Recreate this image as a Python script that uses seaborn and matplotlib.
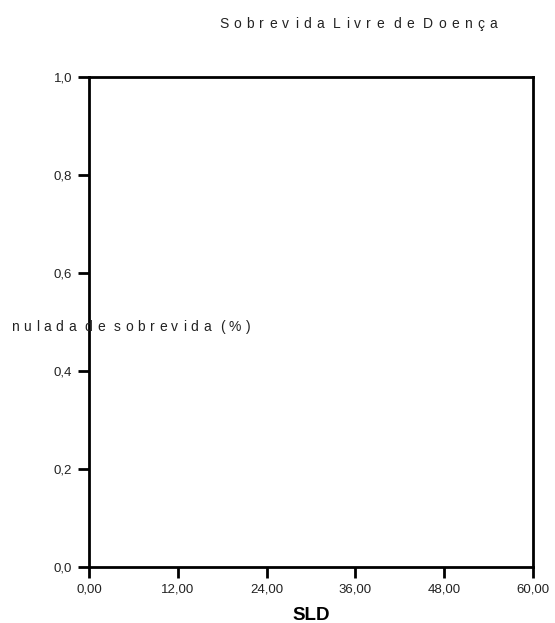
import matplotlib
matplotlib.use("Agg")
import matplotlib.pyplot as plt
import seaborn as sns
from matplotlib.font_manager import FontProperties, findfont, get_font

sns.set_theme(style="ticks")
plt.rcParams["font.family"] = ["Liberation Sans", "DejaVu Sans"]

# chart content (empty survival plot)
time_points = []
survival = []
x_ticks = [0, 12, 24, 36, 48, 60]
x_tick_labels = ["0,00", "12,00", "24,00", "36,00", "48,00", "60,00"]
y_ticks = [0.0, 0.2, 0.4, 0.6, 0.8, 1.0]
y_tick_labels = ["0,0", "0,2", "0,4", "0,6", "0,8", "1,0"]
title = "Sobrevida Livre de Doença"
y_label = "nulada de sobrevida (%)"
x_label = "SLD"

DPI = 100
W, H = 555, 623


def letter_spaced(fig, x, y, s, size=10, gap=5.0, word_gap=9.0,
                  align="left"):
    # matplotlib has no letter-spacing, so place glyph by glyph
    prop = FontProperties(family="Liberation Sans", size=size)
    font = get_font(findfont(prop))
    font.set_size(size, DPI)
    items = []
    for i, word in enumerate(s.split(" ")):
        for j, c in enumerate(word):
            adv = font.load_char(ord(c)).linearHoriAdvance / 65536
            last = j == len(word) - 1
            items.append((c, adv + (word_gap if last else gap)))
    total = sum(a for _, a in items) - word_gap
    px = x - total / 2 if align == "center" else x
    for c, a in items:
        fig.text(px / W, 1 - y / H, c, fontproperties=prop,
                 ha="left", va="baseline", color="#222222")
        px += a


fig = plt.figure(figsize=(W / DPI, H / DPI), dpi=DPI)
ax = fig.add_axes([0.1604, 0.0899, 0.8, 0.7865])

sns.lineplot(x=time_points, y=survival, ax=ax, color="black")

ax.set_xlim(0, 60)
ax.set_ylim(0, 1)
ax.set_xticks(x_ticks)
ax.set_xticklabels(x_tick_labels)
ax.set_yticks(y_ticks)
ax.set_yticklabels(y_tick_labels)
ax.tick_params(axis="both", direction="out", length=8, width=2,
               color="black", labelsize=9.5, labelcolor="#222222", pad=4)
for sp in ax.spines.values():
    sp.set_linewidth(2)
    sp.set_color("black")
ax.set_xlabel(x_label, fontsize=13.5, fontweight="bold", labelpad=8,
              color="black")
ax.set_ylabel("")

letter_spaced(fig, 358, 28, title, size=10, gap=5.3, word_gap=9,
              align="center")
letter_spaced(fig, 11, 331, y_label, size=10, gap=4.6, word_gap=9)

fig.savefig("out.png", dpi=DPI)
